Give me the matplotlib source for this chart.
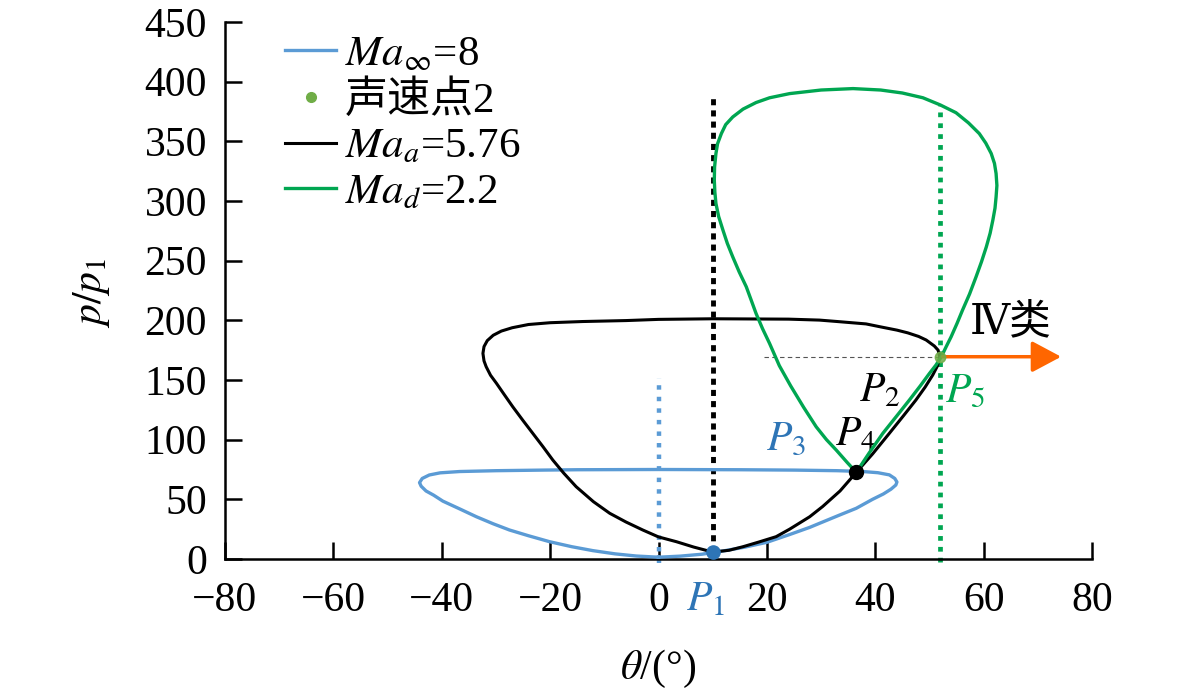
#!/usr/bin/env python3

import matplotlib
matplotlib.use("Agg")
import matplotlib.pyplot as plt

# Shock polars: theta [deg], p/p1
# Ma_inf = 8 (blue), closed loop
theta_inf = [0, 4, 8, 12, 16, 20, 24.2, 27.9, 30.3, 33.4, 36.5, 39.5, 41.5,
             42.9, 43.8, 44.0, 43.6, 42.6, 40.5, 37.7, 33, 25, 15, 0,
             -15, -21.3, -30, -36.7, -40.3, -42.3, -43.6, -44.1, -43.8,
             -42.9, -41.5, -39.8, -36.7, -33.6, -30.5, -27.5, -24, -20.1,
             -16, -12.1, -8, -4.1, 0]
p_inf = [1.5, 2.4, 4, 6.8, 10, 14, 20.5, 26.5, 31, 36.8, 42.5, 50, 54.5,
         58.5, 62, 64.5, 67.5, 70.5, 72.3, 73.3, 74, 74.5, 74.8, 75,
         74.8, 74.5, 74, 73.3, 72.2, 70.4, 67.5, 64, 61,
         57, 53.5, 48.5, 42, 35.4, 29.5, 24.3, 19.5, 14.5,
         10.3, 7, 4.3, 2.5, 1.5]

# Ma_a = 5.76 (black), closed loop starting from P1
theta_a = [10, 13, 15.6, 18.5, 21.7, 24.2, 27.9, 30.3, 33.5, 36.5, 39.5,
           42.6, 45.2, 47.5, 49.2, 50.6, 51.5, 51.9, 51.6, 50.9, 49.4, 48,
           46, 44, 41, 38.3, 33, 29.7, 24, 15, 10, 0, -6, -14, -20, -24,
           -27, -29, -30.5, -31.6, -32.2, -32.4, -32.2, -31.8, -31, -29.9,
           -28.5, -26.9, -25, -23.2, -21.3, -19.5, -17.5, -15.2, -12, -9,
           -6, -2.9, 0, 3.3, 6.5, 10]
p_a = [5.8, 7.3, 10.3, 14.2, 18.7, 25, 35.4, 44, 57, 72.6, 88,
       105.3, 120, 133.2, 144, 154.1, 162, 169.5, 175, 178.5, 183.5, 186.5,
       189.5, 191.8, 194.5, 197, 199, 200.2, 201, 201.2, 201.3, 200.8,
       199.8, 199, 198, 196.5, 193.8, 191, 187.5, 183, 178, 172.3, 166,
       161.1, 154, 147.2, 138, 127.6, 116, 105.3, 94, 82.9, 72, 60.6, 48,
       38.3, 31, 24.3, 18.5, 14.5, 10, 5.8]

# Ma_d = 2.2 (green), closed loop starting from P4
theta_d = [36.5, 38.9, 41.4, 43.9, 46.3, 48.3, 50, 51.2, 52.2, 53.1, 54,
           55.1, 56.1, 57.4, 58.6, 59.6, 60.5, 61.2, 61.7, 62.1, 62.3,
           62.45, 62.3, 62.0, 61.4, 60.4, 59.2, 57.2, 54.9, 52, 48.8, 45,
           41, 35.9, 30, 24.2, 20.5, 18, 15.6, 13.7, 12.4, 11.6, 10.9,
           10.6, 10.35, 10.3, 10.4, 10.6, 11.1, 11.9, 12.7, 13.7, 14.9,
           16.2, 17.1, 18, 19.2, 20.5, 22.3, 24.4, 26.8, 29.1, 31, 32.8,
           34.8, 36.5]
p_d = [72.6, 89, 105.3, 119.5, 133.2, 145, 155.5, 162.5, 169.5, 178,
       186.2, 197.5, 208.5, 222, 236.4, 249, 261.6, 273, 283.9, 294,
       303.4, 313, 323, 331.5, 339.8, 348.5, 356.5, 365.5, 374, 380.5,
       386.5, 390.5, 393, 394.2, 393, 390, 386.5, 382.5, 377, 370.4, 364,
       356.5, 348, 339.8, 328.5, 317.4, 307.5, 297.9, 287, 275.5, 264.5,
       253.2, 240.5, 228.1, 217, 205.8, 193, 180.6, 162, 145, 127, 110.8,
       100, 91.3, 81, 72.6]

# Marked states
P1 = (10, 5.8)
P4 = (36.5, 72.6)
P5 = (52, 169.5)

# Vertical dotted guides: theta, p_bottom, p_top
guide_inf = (0, -3.5, 151.8)
guide_a = (10, 6, 388.6)
guide_d = (52, -2.5, 380.2)

arrow_end = 74.3
dash_start = 19.5

c_blue = "#5B9BD5"
c_blue_dot = "#2E75B6"
c_green = "#00A651"
c_sonic = "#70AD47"
c_orange = "#FF6600"


def main():
    plt.rcParams["font.family"] = ["Liberation Serif", "DejaVu Serif", "Noto Sans CJK SC"]
    plt.rcParams["mathtext.fontset"] = "stix"

    fig = plt.figure(figsize=(11.81, 6.96), dpi=100)
    ax = fig.add_axes([225 / 1181, 1 - 559 / 696, 867 / 1181, 537 / 696])

    # Dotted guides
    ax.plot([guide_inf[0]] * 2, guide_inf[1:], color=c_blue, lw=3.2,
            linestyle=(0, (1.0, 1.6)), clip_on=False, zorder=2)
    ax.plot([guide_a[0]] * 2, guide_a[1:], color="black", lw=3.5,
            linestyle=(0, (1.25, 1.05)), clip_on=False, zorder=2)
    ax.plot([guide_d[0]] * 2, guide_d[1:], color=c_green, lw=3.4,
            linestyle=(0, (1.0, 1.3)), clip_on=False, zorder=2)

    # Shock polars
    ax.plot(theta_inf, p_inf, color=c_blue, lw=2.4, label=r"$\mathit{Ma}_{\infty}$=8", zorder=3)
    ax.plot([], [], "o", color=c_sonic, ms=7, label="声速点2")
    ax.plot(theta_a, p_a, color="black", lw=2.2, label=r"$\mathit{Ma}_{a}$=5.76", zorder=4)
    ax.plot(theta_d, p_d, color=c_green, lw=2.4, label=r"$\mathit{Ma}_{d}$=2.2", zorder=5)

    # Horizontal dashed line and arrow
    ax.plot([dash_start, P5[0]], [P5[1], P5[1]], color="#555555", lw=0.8,
            linestyle=(0, (4, 3)), zorder=2)
    ax.annotate("", xy=(arrow_end, P5[1]), xytext=(P5[0] + 0.4, P5[1]),
                arrowprops=dict(arrowstyle="-|>,head_length=0.9,head_width=0.48",
                                color=c_orange, lw=2.5, mutation_scale=20,
                                shrinkA=0, shrinkB=0), zorder=6)

    # Points
    ax.plot(*P1, "o", color=c_blue_dot, ms=9.5, zorder=7, clip_on=False)
    ax.plot(*P4, "o", color="black", ms=10, zorder=7)
    ax.plot(*P5, "o", color=c_sonic, ms=7.5, alpha=0.85, zorder=7)

    # Point labels
    fs = 30
    ax.text(8.7, -34, r"$P_1$", color=c_blue_dot, fontsize=fs, ha="center", va="center", clip_on=False)
    ax.text(23.6, 100, r"$P_3$", color=c_blue_dot, fontsize=fs, ha="center", va="center")
    ax.text(36.3, 104, r"$P_4$", color="black", fontsize=fs, ha="center", va="center")
    ax.text(40.9, 141, r"$P_2$", color="black", fontsize=fs, ha="center", va="center")
    ax.text(56.6, 140, r"$P_5$", color=c_green, fontsize=fs, ha="center", va="center")
    ax.text(64.9, 198, "Ⅳ类", color="black", fontsize=fs, ha="center", va="center")

    # Axes
    ax.set_xlim(-80, 80)
    ax.set_ylim(0, 450)
    ax.set_xticks(range(-80, 81, 20))
    ax.set_yticks(range(0, 451, 50))
    ax.spines["top"].set_visible(False)
    ax.spines["right"].set_visible(False)
    for s in ("left", "bottom"):
        ax.spines[s].set_linewidth(1.8)
    ax.tick_params(direction="in", length=12, width=1.8, labelsize=30)
    ax.tick_params(axis="x", pad=16)
    ax.tick_params(axis="y", pad=13)

    ax.set_xlabel(r"$\theta$/(°)", fontsize=30)
    ax.set_ylabel(r"$p/p_1$", fontsize=30)
    ax.xaxis.set_label_coords(0.5, -0.166)
    ax.yaxis.set_label_coords(-0.130, 0.495)

    ax.legend(loc="upper left", bbox_to_anchor=(0.069, 0.976), frameon=False,
              fontsize=31, handlelength=1.2, handletextpad=0.2, labelspacing=0.15,
              borderaxespad=0, borderpad=0, numpoints=1)

    fig.savefig("out.png", dpi=100)


if __name__ == "__main__":
    main()
